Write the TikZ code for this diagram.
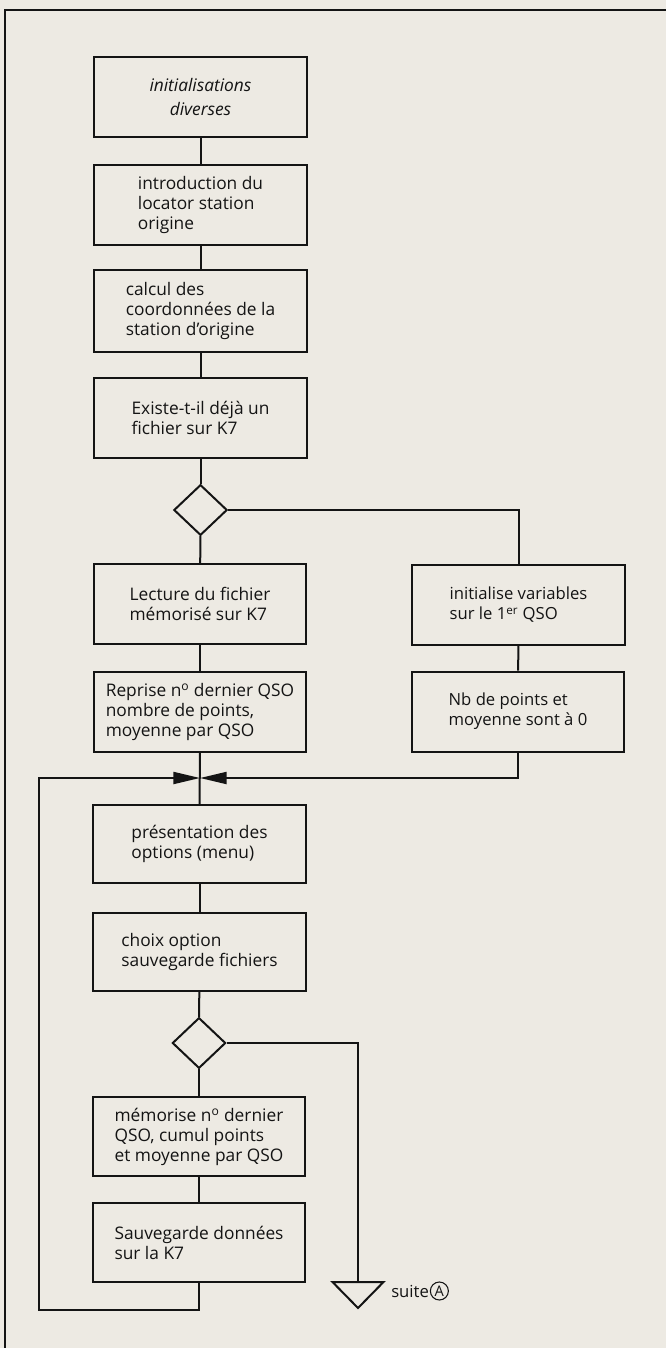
\documentclass[tikz,border=0pt]{standalone}
\usepackage{fontspec}
\setmainfont{Open Sans}
\usetikzlibrary{shapes.geometric,arrows.meta}
\definecolor{paper}{RGB}{237,234,227}
\definecolor{ink}{RGB}{20,20,20}
\begin{document}
\begin{tikzpicture}[x=0.75pt,y=-0.75pt,
  box/.style={draw=ink,line width=1.5pt,minimum width=159.5pt,minimum height=60pt,
    align=left,inner sep=2pt,text=ink,font=\fontsize{13}{15}\selectfont},
  dec/.style={draw=ink,diamond,line width=1.5pt,minimum width=40pt,minimum height=38pt,inner sep=0pt},
  conn/.style={draw=ink,line width=1.5pt},
  tip/.style={-{Triangle[length=20pt,width=9pt]}}
]
\fill[paper] (0,0) rectangle (666,1348);
\useasboundingbox (0,0) rectangle (666,1348);
% outer frame
\draw[ink,line width=2pt] (666,10) -- (5,10) -- (5,1348);

% left column
\node[box,align=center,font=\fontsize{13}{18}\itshape] (b1) at (200.5,97) {initialisations\\diverses};
\node[box] (b2) at (200.5,205) {introduction du\\locator station\\origine};
\node[box,minimum height=61.5pt] (b3) at (200.5,311) {calcul des\\coordonnées de la\\station d’origine};
\node[box] (b4) at (200.5,418) {Existe-t-il déjà un\\fichier sur K7};
\node[dec] (d1) at (200.5,510) {};
\node[box] (b5) at (200,604) {Lecture du fichier\\mémorisé sur K7};
\node[box] (b6) at (200,711.5) {Reprise n\textsuperscript{o} dernier QSO\\nombre de points,\\moyenne par QSO};
\node[box,font=\fontsize{12.5}{15}\selectfont] (r1) at (518.5,605) {initialise variables\\sur le 1\textsuperscript{er} QSO};
\node[box,font=\fontsize{12.5}{15}\selectfont] (r2) at (518,711.5) {Nb de points et\\moyenne sont à 0};
\coordinate (J) at (200,778);
\node[box,minimum height=58.5pt] (b7) at (199.5,844) {présentation des\\options (menu)};
\node[box,minimum height=58.5pt] (b8) at (199.5,952) {choix option\\sauvegarde fichiers};
\node[dec] (d2) at (199,1043) {};
\node[box,minimum height=59pt] (b9) at (199,1136.5) {mémorise n\textsuperscript{o} dernier\\QSO, cumul points\\et moyenne par QSO};
\node[box,minimum height=59pt] (b10) at (199,1242.5) {Sauvegarde données\\sur la K7};
\coordinate (sA) at (358,1282);
\node[anchor=west,inner sep=0pt,text=ink,font=\fontsize{12.5}{15}\selectfont] (suite) at (391,1291) {suite};
\node[anchor=west,circle,draw=ink,line width=0.8pt,inner sep=0pt,minimum size=13.5pt,text=ink,
  font=\fontsize{11}{11}\selectfont] (cA) at ([xshift=0.5pt]suite.east) {A};

% connectors
\draw[conn] (b1) -- (b2);
\draw[conn] (b2) -- (b3);
\draw[conn] (b3) -- (b4);
\draw[conn] (b4) -- (d1);
\draw[conn] (d1) -- (b5);
\draw[conn] (d1.east) -| (r1.north);
\draw[conn] (b5) -- (b6);
\draw[conn] (r1) -- (r2);
\draw[conn] (b6.south) -- (b7.north);
\draw[conn,tip] (r2.south) |- (J);
\draw[conn,tip] (b10.south) -- ++(0,27) -| (39,790) |- (J);
\draw[conn] (b7) -- (b8);
\draw[conn] (b8) -- (d2);
\draw[conn] (d2) -- (b9);
\draw[conn] (b9) -- (b10);
\draw[conn] (d2.east) -| (sA);
\draw[conn,line join=miter] (sA) -- ++(25.5,0) -- ++(-25.5,26) -- ++(-25.5,-26) -- cycle;
\end{tikzpicture}
\end{document}
